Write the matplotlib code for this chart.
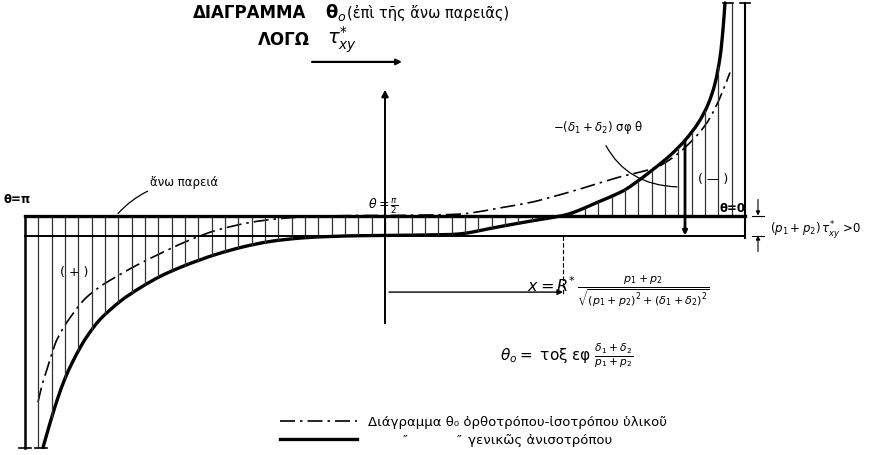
import numpy as np
import matplotlib
matplotlib.use("Agg")
import matplotlib.pyplot as plt
from matplotlib.path import Path
from matplotlib.patches import PathPatch

# theta in degrees (180 on the left, 0 on the right), sigma in band units, positive downward
theta_gen = [175.5, 174.5, 173.25, 171.75, 170, 168.25, 166.25, 164.5, 161.25, 156.25,
             151.25, 146.25, 141.25, 136.25, 132, 125.5, 118.75, 111.25, 103.75, 96.25,
             86.25, 76.25, 72, 68.75, 63.75, 57, 51.25, 45.5, 42, 37, 31.25, 28, 23,
             18.75, 15, 11.75, 9.25, 7.5, 6.25, 5.5, 5]
sigma_gen = [11.6, 10.9, 10.05, 9.1, 8.15, 7.38, 6.62, 6.05, 5.2, 4.3,
             3.62, 3.05, 2.6, 2.22, 1.93, 1.57, 1.3, 1.13, 1.05, 1.01,
             0.99, 0.96, 0.93, 0.85, 0.65, 0.4, 0.2, 0.0, -0.22, -0.65, -1.15, -1.55, -2.3,
             -3.0, -3.76, -4.61, -5.55, -6.6, -7.9, -9.3, -10.63]

theta_iso = [176.75, 175.75, 174.5, 172.5, 171, 169.5, 165.5, 161.25, 156.25, 151.25,
             147.5, 143.75, 138.75, 132, 123.75, 115.5, 106.25, 96.25, 90, 81.25, 73.75,
             68.75, 61.25, 53.75, 48.75, 40.5, 32, 23, 18.75, 15, 11.25, 8.75, 6.25, 3.75]
sigma_iso = [9.34, 8.49, 7.69, 6.44, 5.83, 5.33, 4.27, 3.56, 2.95, 2.4,
             2.03, 1.67, 1.22, 0.73, 0.35, 0.14, 0.04, 0.0, 0.0, -0.02, -0.05,
             -0.12, -0.38, -0.65, -0.9, -1.37, -1.89, -2.35, -2.8, -3.4, -4.18, -4.89, -5.89, -7.15]

theta_zero = 45.5      # where the general curve meets the upper face
theta_dim = 15         # bold dimension line on the (-) side
n_hatch = 54


def smooth(xs, ys):
    # Catmull-Rom through the points, written as cubic Bezier segments
    p = np.column_stack([xs, ys]).astype(float)
    p = np.vstack([p[0], p, p[-1]])
    verts = [p[1]]
    codes = [Path.MOVETO]
    for i in range(1, len(p) - 2):
        a, b, c, d = p[i - 1], p[i], p[i + 1], p[i + 2]
        verts += [b + (c - a) / 6, c - (d - b) / 6, c]
        codes += [Path.CURVE4] * 3
    return Path(verts, codes)


fig = plt.figure(figsize=(8.76, 4.56), dpi=100)
ax = fig.add_axes([0, 0, 1, 1])
ax.set_xlim(186.25, -32.75)
ax.set_ylim(11.975, -10.825)
ax.axis("off")

k = "black"
dashdot = (0, (9, 3, 1.5, 3))

# hatching between the face and the general curve
th_h = np.arange(1, n_hatch) * 180.0 / n_hatch
tg = np.array(theta_gen)[::-1]
sg = np.array(sigma_gen)[::-1]
sig_h = np.interp(th_h, tg, sg)
ax.vlines(th_h, 0, sig_h, color="0.2", lw=0.9)

# the band (upper face) and its ends
ax.plot([180, 0], [0, 0], color=k, lw=2.4)
ax.plot([180, 0], [1, 1], color=k, lw=1.4)
ax.plot([180, 180], [0, sigma_gen[0]], color=k, lw=1.8)
ax.plot([181.5, 178.5], [sigma_gen[0], sigma_gen[0]], color=k, lw=1.2)
ax.plot([177.5, 174.5], [sigma_gen[0], sigma_gen[0]], color=k, lw=1.2)
ax.plot([0, 0], [sigma_gen[-1], 1.1], color=k, lw=1.5)
ax.plot([5.5, 3], [sigma_gen[-1], sigma_gen[-1]], color=k, lw=1.2)
ax.plot([1.25, -1.25], [sigma_gen[-1], sigma_gen[-1]], color=k, lw=1.2)

# curves
ax.add_patch(PathPatch(smooth(theta_iso, sigma_iso), fill=False, edgecolor=k,
                       lw=1.2, ls=dashdot))
ax.add_patch(PathPatch(smooth(theta_gen, sigma_gen), fill=False, edgecolor=k,
                       lw=2.4, capstyle="round"))

# vertical axis at theta = pi/2
ax.annotate("", xy=(90, -6.43), xytext=(90, 5.53),
            arrowprops=dict(arrowstyle="-|>", color=k, lw=1.4, mutation_scale=10))

# bold dimension line on the (-) side
s_dim = np.interp(theta_dim, tg, sg)
ax.annotate("", xy=(theta_dim, 1), xytext=(theta_dim, s_dim),
            arrowprops=dict(arrowstyle="-|>", color=k, lw=2.0, mutation_scale=6,
                            shrinkA=0, shrinkB=0))

# x dimension to the zero crossing
ax.plot([theta_zero, theta_zero], [1, 3.95], color=k, lw=0.8, ls=(0, (4, 2)))
ax.annotate("", xy=(theta_zero, 3.83), xytext=(89, 3.83),
            arrowprops=dict(arrowstyle="-|>", color=k, lw=1.0, mutation_scale=8,
                            shrinkA=0, shrinkB=0))

# thickness of the band on the right
ax.annotate("", xy=(-3.25, 0), xytext=(-3.25, -0.8),
            arrowprops=dict(arrowstyle="-|>", color=k, lw=0.8, mutation_scale=6,
                            shrinkA=0, shrinkB=0))
ax.annotate("", xy=(-3.25, 1), xytext=(-3.25, 1.8),
            arrowprops=dict(arrowstyle="-|>", color=k, lw=0.8, mutation_scale=6,
                            shrinkA=0, shrinkB=0))
ax.plot([-1.75, -4.75], [0, 0], color=k, lw=0.8)
ax.plot([-1.75, -4.75], [1, 1], color=k, lw=0.8)
ax.text(-6.25, 0.68, r"$(p_1+p_2)\,\tau^{*}_{xy}$ >0", fontsize=8.5, va="center", ha="left")

# title
ax.text(138, -10.18, "ΔΙΑΓΡΑΜΜΑ", fontsize=12, fontweight="bold", va="center", ha="left")
ax.text(105, -10.18, r"$\mathbf{\theta}_{o}$", fontsize=13, va="center", ha="left")
ax.text(99.5, -10.18, "(ἐπὶ τῆς ἄνω παρειᾶς)", fontsize=10.5, va="center", ha="left")
ax.text(121.75, -8.83, "ΛΟΓΩ", fontsize=12, fontweight="bold", va="center", ha="left")
ax.text(104.5, -8.83, r"$\tau^{*}_{xy}$", fontsize=14, va="center", ha="left")
ax.annotate("", xy=(85.75, -7.68), xytext=(108.25, -7.68),
            arrowprops=dict(arrowstyle="-|>", color=k, lw=1.6, mutation_scale=8,
                            shrinkA=0, shrinkB=0))

# labels on the band
ax.text(185.5, -0.83, "θ=π", fontsize=8.5, fontweight="bold", va="center", ha="left")
ax.text(94.25, -0.5, r"$\theta=\frac{\pi}{2}$", fontsize=9, va="center", ha="left")
ax.text(6.25, -0.4, "θ=0", fontsize=8.5, fontweight="bold", va="center", ha="left")
ax.annotate("ἄνω παρειά", xy=(156.75, -0.1), xytext=(148.75, -1.68),
            fontsize=8.5, va="center", ha="left",
            arrowprops=dict(arrowstyle="-", color=k, lw=0.9,
                            connectionstyle="arc3,rad=0.2", shrinkA=0, shrinkB=0))
ax.text(171.25, 2.78, "( + )", fontsize=9, va="center", ha="left")
ax.text(11.75, -1.83, "( — )", fontsize=9, va="center", ha="left")
ax.annotate(r"$-(\delta_1+\delta_2)$ σφ θ", xy=(17, -1.43), xytext=(48, -4.43),
            fontsize=8.5, va="center", ha="left",
            arrowprops=dict(arrowstyle="-", color=k, lw=0.9,
                            connectionstyle="arc3,rad=0.35", shrinkA=6, shrinkB=0))

# formulas
ax.text(54.5, 3.72, r"$x=R^{*}\,\frac{p_1+p_2}{\sqrt{(p_1+p_2)^2+(\delta_1+\delta_2)^2}}$",
        fontsize=11.5, va="center", ha="left")
ax.text(61.25, 6.93, r"$\theta_o=$ τοξ εφ $\frac{\delta_1+\delta_2}{p_1+p_2}$",
        fontsize=11, va="center", ha="left")

# legend
ax.plot([116.25, 97], [10.28, 10.28], color=k, lw=1.2, ls=dashdot)
ax.plot([116.25, 97], [11.18, 11.18], color=k, lw=2.4)
ax.text(94.25, 10.28, "Διάγραμμα θ₀ ὀρθοτρόπου-ἰσοτρόπου ὑλικοῦ",
        fontsize=9.5, va="center", ha="left")
ax.text(85.5, 11.18, "″", fontsize=9.5, va="center", ha="left")
ax.text(72, 11.18, "″", fontsize=9.5, va="center", ha="left")
ax.text(69.25, 11.18, "γενικῶς ἀνισοτρόπου", fontsize=9.5, va="center", ha="left")

fig.savefig("out.png", dpi=100, facecolor="white")
